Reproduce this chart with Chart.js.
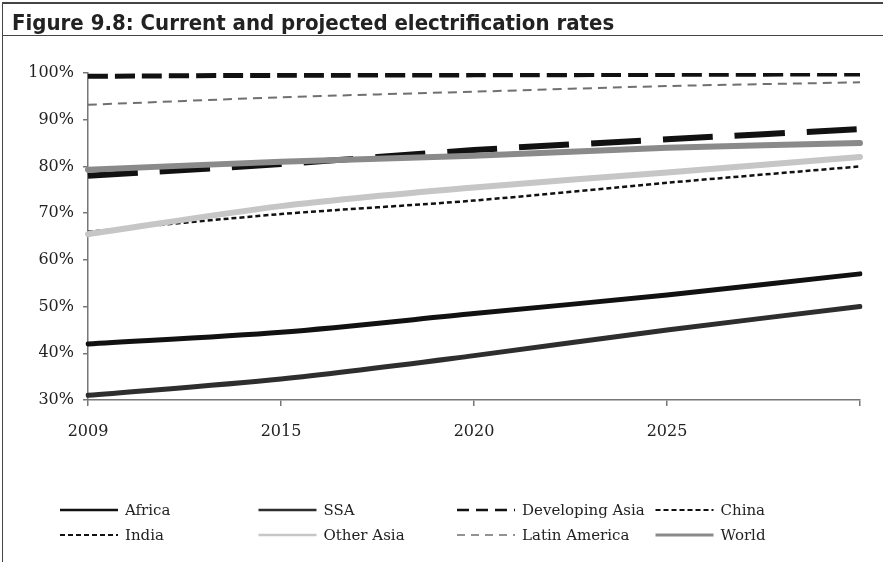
<!DOCTYPE html>
<html>
<head>
<meta charset="utf-8">
<script src="https://cdn.jsdelivr.net/npm/chart.js@4.4.1/dist/chart.umd.min.js"></script>
<style>
    html, body { margin: 0; padding: 0; background: #fff; }
    #page { position: relative; width: 883px; height: 562px; overflow: hidden; }
    #frame { position: absolute; left: 2px; top: 2px; right: 0; bottom: 0; border-left: 1.5px solid #444; border-top: 2px solid #444; }
    #rule { position: absolute; left: 2px; right: 0; top: 35px; height: 0; border-top: 1.5px solid #444; }
    #title { position: absolute; left: 12px; top: 10px; line-height: 1; font: bold 22px "Liberation Sans Narrow", "DejaVu Sans Condensed", sans-serif; color: #222; white-space: nowrap; }
    #chart { position: absolute; left: 0; top: 0; }
</style>
</head>
<body>
<div id="page">
    <canvas id="chart" width="883" height="562"></canvas>
    <div id="frame"></div>
    <div id="rule"></div>
    <div id="title">Figure 9.8: Current and projected electrification rates</div>
</div>
<script>
    // Data (% of population with access to electricity)
    const years = ['2009', '2015', '2020', '2025', '2030'];
    const africa = [42, 44.5, 48.5, 52.5, 57];
    const ssa = [31, 34.5, 39.5, 45, 50];
    const developingAsia = [78, 80.5, 83.5, 85.8, 88];
    const china = [99.3, 99.5, 99.6, 99.7, 99.8];
    const india = [66, 69.8, 72.7, 76.5, 80];
    const otherAsia = [65.5, 71.5, 75.5, 78.7, 82];
    const latinAmerica = [93.2, 94.8, 96, 97.2, 98];
    const world = [79.3, 81, 82.3, 84, 85];

    const serif = 'DejaVu Serif';

    // Legend laid out as a 4 column grid, like the original
    const gridLegend = {
        id: 'gridLegend',
        afterDraw(chart) {
            const ctx = chart.ctx;
            const x0 = 60, y0 = 510, colW = 198.5, rowH = 25, sampleW = 58;
            chart.data.datasets.forEach(function (ds, i) {
                const x = x0 + (i % 4) * colW;
                const y = y0 + Math.floor(i / 4) * rowH;
                ctx.save();
                ctx.strokeStyle = ds.borderColor;
                ctx.lineWidth = ds.legendWidth;
                ctx.setLineDash(ds.legendDash || []);
                ctx.beginPath();
                ctx.moveTo(x, y);
                ctx.lineTo(x + sampleW, y);
                ctx.stroke();
                ctx.setLineDash([]);
                ctx.fillStyle = '#222';
                ctx.font = '15px "' + serif + '"';
                ctx.textBaseline = 'middle';
                ctx.fillText(ds.label, x + sampleW + 7, y + 1);
                ctx.restore();
            });
        }
    };

    // later series are drawn on top, as in the source
    function series(label, data, color, width, dash, legendWidth, legendDash) {
        return {
            label: label,
            data: data,
            borderColor: color,
            borderWidth: width,
            borderDash: dash,
            borderCapStyle: dash.length ? 'butt' : 'round',
            legendWidth: legendWidth,
            legendDash: legendDash,
            fill: false
        };
    }

    const datasets = [
        series('Africa', africa, '#111', 5, [], 2.5, []),
        series('SSA', ssa, '#2e2e2e', 5, [], 2.5, []),
        series('Developing Asia', developingAsia, '#111', 6, [50, 22], 2.5, [12, 7]),
        series('China', china, '#111', 5, [20, 7], 2, [5, 3]),
        series('India', india, '#111', 2.5, [5, 3], 2, [5, 3]),
        series('Other Asia', otherAsia, '#c6c6c6', 6, [], 2.5, []),
        series('Latin America', latinAmerica, '#707070', 2, [9, 6], 1.5, [8, 6]),
        series('World', world, '#8a8a8a', 6, [], 3, [])
    ];
    datasets.forEach(function (ds, i) { ds.order = datasets.length - i; });

    new Chart(document.getElementById('chart'), {
        type: 'line',
        data: { labels: years, datasets: datasets },
        plugins: [gridLegend],
        options: {
            responsive: false,
            animation: false,
            layout: { padding: { left: 0, top: 73, right: 23, bottom: 117 } },
            elements: {
                point: { radius: 0 },
                line: { tension: 0.3 }
            },
            plugins: {
                legend: { display: false },
                tooltip: { enabled: false }
            },
            scales: {
                x: {
                    type: 'category',
                    offset: false,
                    grid: { drawOnChartArea: false, tickLength: 6, color: '#777', lineWidth: 1.5 },
                    border: { color: '#777', width: 1.5 },
                    ticks: {
                        padding: 16,
                        color: '#222',
                        maxRotation: 0,
                        autoSkip: false,
                        font: { family: serif, size: 16 },
                        callback: function (val, i) {
                            return i === years.length - 1 ? '' : years[i];
                        }
                    },
                    afterFit: function (scale) { scale.height = 45; }
                },
                y: {
                    min: 30,
                    max: 100,
                    grid: { drawOnChartArea: false, tickLength: 5, color: '#777', lineWidth: 1.5 },
                    border: { color: '#777', width: 1.5 },
                    ticks: {
                        stepSize: 10,
                        padding: 9,
                        color: '#222',
                        font: { family: serif, size: 16 },
                        callback: function (v) { return v + '%'; }
                    },
                    afterFit: function (scale) { scale.width = 88; }
                }
            }
        }
    });
</script>
</body>
</html>
